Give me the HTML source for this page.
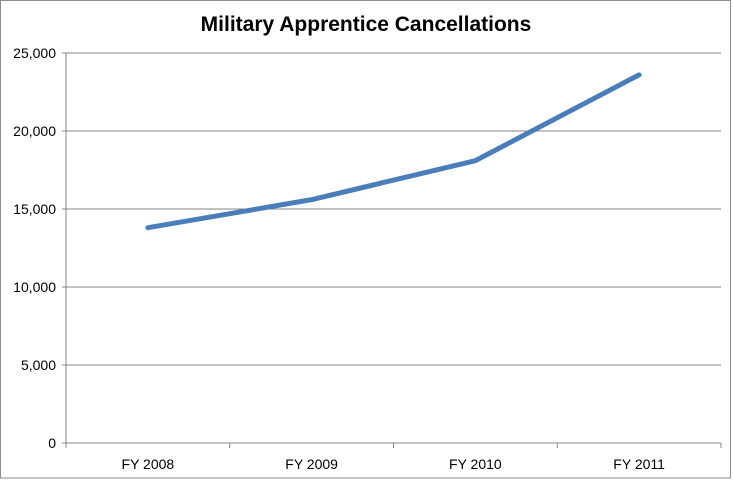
<!DOCTYPE html>
<html><head><meta charset="utf-8"><style>
html,body{margin:0;padding:0;background:#fff;}
svg{display:block;font-family:"Liberation Sans",sans-serif;}
</style></head><body>
<svg id="chart" width="733" height="480">
<rect x="0.5" y="0.5" width="730" height="477.5" fill="#fff" stroke="#8c8c8c"/>
<text x="366" y="31" text-anchor="middle" font-size="21" font-weight="bold" fill="#000">Military Apprentice Cancellations</text>
<g id="grid"></g><g id="axes"></g><g id="series"></g>
</svg>
<script>
const categories = ["FY 2008","FY 2009","FY 2010","FY 2011"];
const values = [13800, 15600, 18100, 23600];
const yTicks = [0, 5000, 10000, 15000, 20000, 25000];
const yTickLabels = ["0","5,000","10,000","15,000","20,000","25,000"];
const L=66,R=721,T=53,B=443,yMax=25000;
const ns="http://www.w3.org/2000/svg";
const y=v=>B-(v/yMax)*(B-T);
const bw=(R-L)/categories.length;
const x=i=>L+bw*(i+0.5);
function mk(tag,attrs,parent,txt){const e=document.createElementNS(ns,tag);for(const k in attrs)e.setAttribute(k,attrs[k]);if(txt!==undefined)e.textContent=txt;document.getElementById(parent).appendChild(e);return e;}
yTicks.forEach((t,i)=>{
  const g=mk("line",{x1:L-4,x2:R,y1:y(t),y2:y(t),stroke:"#868686","stroke-width":1},"grid");
  
  
  const lb=mk("text",{x:L-10,y:y(t)+5,"text-anchor":"end","font-size":"14",fill:"#000"},"axes",yTickLabels[i]);
  
  
});
const ya=mk("line",{x1:L,x2:L,y1:T,y2:B+5,stroke:"#868686"},"axes");


for(let i=0;i<=categories.length;i++){
  const tk=mk("line",{x1:L+bw*i,x2:L+bw*i,y1:B,y2:B+5,stroke:"#868686"},"axes");
  
  
}
categories.forEach((c,i)=>{
  const lb=mk("text",{x:x(i),y:469,"text-anchor":"middle","font-size":"14",fill:"#000"},"axes",c);
  
  
});
const pl=mk("polyline",{points:values.map((v,i)=>x(i)+","+y(v)).join(" "),fill:"none",stroke:"#4a7ebb","stroke-width":5,"stroke-linejoin":"round","stroke-linecap":"round"},"series");


</script>
</body></html>
